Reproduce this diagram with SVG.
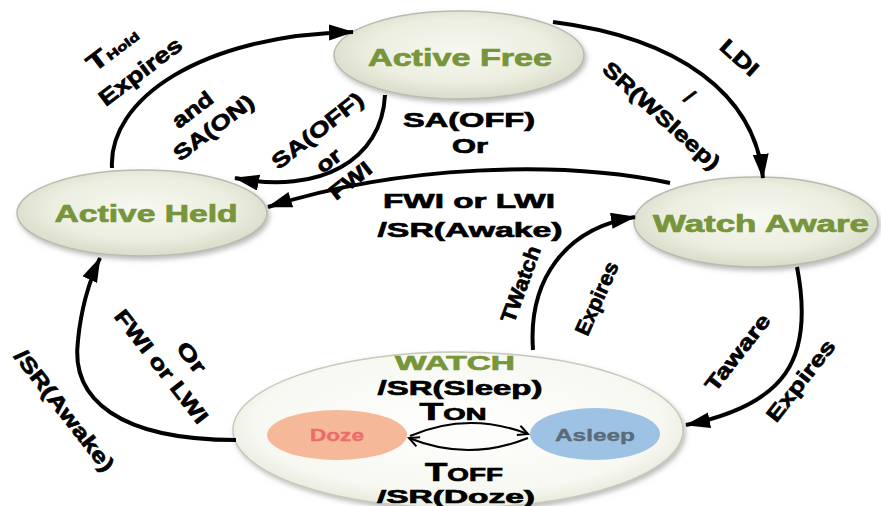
<svg xmlns="http://www.w3.org/2000/svg" width="881" height="506" viewBox="0 0 881 506">
<style>
.t{font-family:"Liberation Sans",Arial,sans-serif;font-weight:bold;fill:#000;stroke:#000;stroke-width:0.7;text-anchor:middle}
.g{fill:#77953a;stroke:#77953a}
.c{fill:none;stroke:#000;stroke-width:4}
.thin{fill:none;stroke:#000;stroke-width:2}
.node{fill:url(#ng);stroke:#b8bcae;stroke-width:1.5;filter:url(#sh)}
</style>
<defs>
<radialGradient id="ng" cx="50%" cy="45%" r="60%">
<stop offset="0" stop-color="#f7f8f0"/>
<stop offset="0.6" stop-color="#eceee0"/>
<stop offset="1" stop-color="#d3d7c2"/>
</radialGradient>
<radialGradient id="wg" cx="50%" cy="45%" r="60%">
<stop offset="0" stop-color="#ffffff"/>
<stop offset="0.75" stop-color="#f7f8f1"/>
<stop offset="1" stop-color="#e1e4d3"/>
</radialGradient>
<filter id="sh" x="-10%" y="-10%" width="125%" height="130%">
<feDropShadow dx="2" dy="3" stdDeviation="2.5" flood-color="#777" flood-opacity="0.5"/>
</filter>
<marker id="ah" markerUnits="userSpaceOnUse" markerWidth="26" markerHeight="18" refX="24" refY="8" orient="auto">
<path d="M0,0 L25,8 L0,16 Z" fill="#000"/>
</marker>
<marker id="ao" markerUnits="userSpaceOnUse" markerWidth="14" markerHeight="14" refX="11" refY="6" orient="auto">
<path d="M1,1 L11,6 L1,11" fill="none" stroke="#000" stroke-width="2"/>
</marker>
</defs>

<g id="watch">
<ellipse cx="458" cy="430" rx="225" ry="78" fill="url(#wg)" stroke="#c6c9bb" stroke-width="1.5" filter="url(#sh)"/>
<text class="t g" x="455" y="370" font-size="21" textLength="120" lengthAdjust="spacingAndGlyphs">WATCH</text>
<text class="t" x="460" y="395" font-size="21" textLength="165" lengthAdjust="spacingAndGlyphs">/SR(Sleep)</text>
<text class="t" x="453" y="420" textLength="67" lengthAdjust="spacingAndGlyphs"><tspan font-size="23">T</tspan><tspan font-size="17">ON</tspan></text>
<text class="t" x="464" y="481" textLength="78" lengthAdjust="spacingAndGlyphs"><tspan font-size="25">T</tspan><tspan font-size="19">OFF</tspan></text>
<text class="t" x="456" y="503" font-size="19" textLength="158" lengthAdjust="spacingAndGlyphs">/SR(Doze)</text>
</g>

<g id="doze">
<ellipse cx="337" cy="435" rx="70" ry="25" fill="#f5b898"/>
<text class="t" x="337" y="441" font-size="17" style="fill:#ee6b6b;stroke:#ee6b6b;stroke-width:0.4" textLength="54" lengthAdjust="spacingAndGlyphs">Doze</text>
</g>

<g id="asleep">
<ellipse cx="595" cy="434" rx="65" ry="26" fill="#9dc2e4"/>
<text class="t" x="595" y="441" font-size="17" style="fill:#5b6b78;stroke:#5b6b78;stroke-width:0.4" textLength="80" lengthAdjust="spacingAndGlyphs">Asleep</text>
</g>

<g id="active-free">
<ellipse class="node" cx="459" cy="55" rx="125" ry="44"/>
<text class="t g" x="460" y="66" font-size="23" textLength="184" lengthAdjust="spacingAndGlyphs">Active Free</text>
</g>

<g id="active-held">
<ellipse class="node" cx="142" cy="213" rx="125" ry="43"/>
<text class="t g" x="146" y="222" font-size="23" textLength="183" lengthAdjust="spacingAndGlyphs">Active Held</text>
</g>

<g id="watch-aware">
<ellipse class="node" cx="756" cy="222" rx="122" ry="45"/>
<text class="t g" x="761" y="232" font-size="23" textLength="216" lengthAdjust="spacingAndGlyphs">Watch Aware</text>
</g>

<g id="connectors">
<path class="c" d="M112,168 C108,100 200,35 353,32" marker-end="url(#ah)"/>
<path class="c" d="M385,95 C382,160 320,195 235,178" marker-end="url(#ah)"/>
<path class="c" d="M553,22 C680,38 755,95 763,178" marker-end="url(#ah)"/>
<path class="c" d="M670,183 C560,160 400,165 268,207" marker-end="url(#ah)"/>
<path class="c" d="M533,350 C528,280 565,228 635,217" marker-end="url(#ah)"/>
<path class="c" d="M797,267 C815,360 785,405 686,425" marker-end="url(#ah)"/>
<path class="c" d="M236,440 C120,440 70,400 78,340 C82,300 92,275 100,258" marker-end="url(#ah)"/>
<path class="thin" d="M410,436 Q468,411 528,434" marker-end="url(#ao)"/>
<path class="thin" d="M528,438 Q468,462 409,438" marker-end="url(#ao)"/>
</g>

<g id="labels">
<text class="t" transform="translate(113,50) rotate(-37)" y="7" textLength="58" lengthAdjust="spacingAndGlyphs"><tspan font-size="24">T</tspan><tspan font-size="12">Hold</tspan></text>
<text class="t" transform="translate(140,71) rotate(-37)" y="8" font-size="22" textLength="98" lengthAdjust="spacingAndGlyphs">Expires</text>
<text class="t" transform="translate(192,109) rotate(-37)" y="8" font-size="21" textLength="46" lengthAdjust="spacingAndGlyphs">and</text>
<text class="t" transform="translate(213,127) rotate(-37)" y="8" font-size="21" textLength="95" lengthAdjust="spacingAndGlyphs">SA(ON)</text>
<text class="t" transform="translate(317,130) rotate(-38)" y="8" font-size="21" textLength="110" lengthAdjust="spacingAndGlyphs">SA(OFF)</text>
<text class="t" transform="translate(328,160) rotate(-38)" y="8" font-size="21" textLength="26" lengthAdjust="spacingAndGlyphs">or</text>
<text class="t" transform="translate(350,180) rotate(-38)" y="8" font-size="21" textLength="48" lengthAdjust="spacingAndGlyphs">FWI</text>
<text class="t" x="469" y="127" font-size="21" textLength="132" lengthAdjust="spacingAndGlyphs">SA(OFF)</text>
<text class="t" x="470" y="153" font-size="21" textLength="36" lengthAdjust="spacingAndGlyphs">Or</text>
<text class="t" x="469" y="208" font-size="21" textLength="172" lengthAdjust="spacingAndGlyphs">FWI or LWI</text>
<text class="t" x="470" y="237" font-size="21" textLength="185" lengthAdjust="spacingAndGlyphs">/SR(Awake)</text>
<text class="t" transform="translate(740,57) rotate(42)" y="8" font-size="21" textLength="44" lengthAdjust="spacingAndGlyphs">LDI</text>
<text class="t" transform="translate(690,96) rotate(42)" y="8" font-size="21">/</text>
<text class="t" transform="translate(662,115) rotate(42)" y="8" font-size="21" textLength="150" lengthAdjust="spacingAndGlyphs">SR(WSleep)</text>
<text class="t" transform="translate(520,284) rotate(-70)" y="8" font-size="21" textLength="80" lengthAdjust="spacingAndGlyphs">TWatch</text>
<text class="t" transform="translate(596,298) rotate(-66)" y="8" font-size="21" textLength="78" lengthAdjust="spacingAndGlyphs">Expires</text>
<text class="t" transform="translate(737,352) rotate(-52)" y="8" font-size="21" textLength="92" lengthAdjust="spacingAndGlyphs">Taware</text>
<text class="t" transform="translate(800,380) rotate(-52)" y="8" font-size="21" textLength="98" lengthAdjust="spacingAndGlyphs">Expires</text>
<text class="t" transform="translate(192,357) rotate(52)" y="8" font-size="21" textLength="34" lengthAdjust="spacingAndGlyphs">Or</text>
<text class="t" transform="translate(162,366) rotate(52)" y="8" font-size="21" textLength="138" lengthAdjust="spacingAndGlyphs">FWI or LWI</text>
<text class="t" transform="translate(65,410) rotate(52)" y="8" font-size="21" textLength="148" lengthAdjust="spacingAndGlyphs">/SR(Awake)</text>
</g>
</svg>
